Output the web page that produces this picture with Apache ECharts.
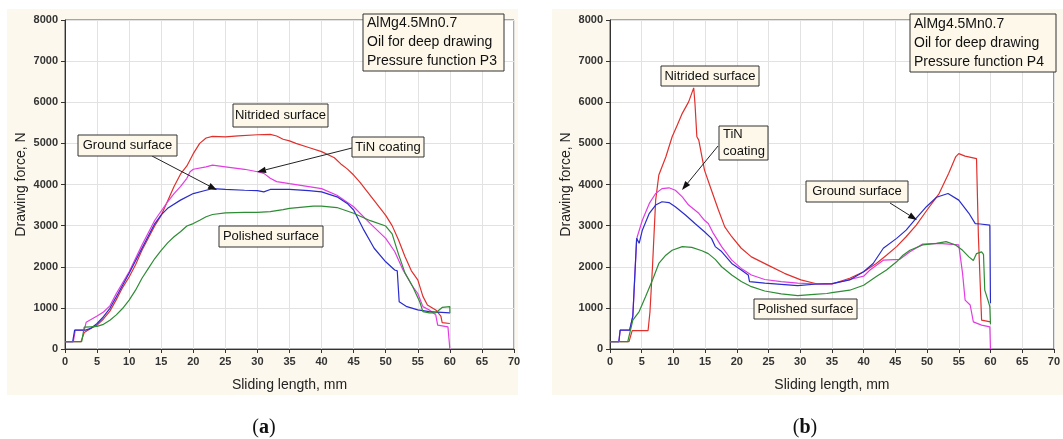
<!DOCTYPE html>
<html>
<head>
<meta charset="utf-8">
<script src="https://cdn.jsdelivr.net/npm/echarts@6/dist/echarts.min.js"></script>
<style>
  html, body { margin: 0; padding: 0; background: #fff; }
  #main { width: 1063px; height: 439px; }
</style>
</head>
<body>
<div id="main"></div>
<script>
// sliding length (mm) / drawing force (N)
// panel (a) - pressure function P3
var aNitrided = [[0,180],[2.5,180],[3,400],[4,500],[5,580],[6,730],[7,920],[8,1200],[9,1500],[10,1750],[11,2050],[12,2400],[13,2700],[14,3000],[15,3250],[16,3600],[17,3950],[18,4250],[19,4450],[20,4750],[21,5000],[22,5130],[23,5170],[25,5160],[27,5180],[30,5210],[32,5220],[33,5180],[34,5100],[35,5060],[36,5000],[38,4900],[40,4800],[42,4650],[43,4500],[44,4380],[45,4230],[46,4050],[47,3850],[48,3650],[49,3450],[50,3250],[51,3000],[52,2650],[53,2250],[54,1900],[55,1680],[55.8,1280],[56.5,1070],[57.8,950],[58.6,800],[58.8,640],[60,620]];
var aTiN = [[0,180],[1.3,180],[1.6,460],[3,460],[3.3,650],[5,800],[6,900],[7,1050],[8,1350],[10,1880],[12,2530],[14,3130],[16,3580],[17,3780],[18,3950],[19,4150],[19.5,4310],[20,4370],[22,4430],[23,4470],[25,4430],[28,4370],[30,4310],[31,4270],[32,4150],[33,4070],[35,4020],[38,3950],[40,3900],[42.4,3740],[45,3460],[47.6,3050],[50,2690],[51.4,2370],[52.7,1920],[54.2,1520],[55,1350],[55.8,1030],[56.8,950],[57.8,830],[58.1,580],[59.7,540],[60,540],[60,0]];
var aGround = [[0,180],[1.2,180],[1.5,460],[3.2,460],[4,500],[5,620],[6,785],[7,990],[8,1270],[10,1840],[12,2450],[14,3050],[15,3260],[16,3420],[18,3620],[20,3780],[22,3860],[23,3900],[25,3880],[28,3860],[30,3850],[31,3820],[32,3880],[35,3880],[38,3850],[40,3820],[42.4,3700],[44,3540],[45,3380],[46.6,2890],[48.2,2450],[50,2120],[51.4,1920],[51.8,1900],[52.1,1150],[53.3,1030],[55,950],[56.8,910],[60,880]];
var aPolished = [[0,180],[2.6,180],[3,530],[4,540],[5,550],[6,600],[7,700],[8,830],[9,990],[10,1190],[11,1430],[12,1720],[13,1960],[14,2200],[15,2400],[16,2580],[17,2730],[18,2850],[19,2990],[20,3050],[21,3130],[22,3215],[23,3270],[25,3310],[28,3320],[30,3320],[32,3340],[34,3390],[35,3420],[38.7,3475],[40,3475],[42.4,3440],[45,3300],[47.6,3120],[50,2990],[51,2800],[52,2300],[53,1850],[54.2,1520],[55.3,1150],[55.8,910],[56.8,880],[57.8,880],[58.8,1010],[60,1030],[60,870]];

// panel (b) - pressure function P4
var bNitrided = [[0,180],[3,180],[3.5,445],[6,445],[6.3,900],[6.7,2000],[7.2,3620],[7.7,4230],[8.8,4670],[9.8,5160],[10.6,5440],[11.4,5730],[12.4,6010],[13.2,6350],[13.4,5970],[13.7,5160],[14,5080],[14.9,4350],[16,3860],[17.1,3380],[18.1,2970],[19.2,2730],[20.7,2450],[22.3,2240],[24.9,2040],[27.5,1840],[30.1,1680],[32.7,1580],[35,1580],[37.8,1720],[40,1880],[42,2080],[43.6,2280],[45.2,2490],[46.7,2730],[48.3,3010],[50,3380],[51.9,3780],[53.4,4270],[54.5,4670],[55,4750],[56,4690],[57.8,4630],[58.1,2730],[58.6,700],[60,660]];
var bTiN = [[0,180],[1.4,180],[1.6,460],[3.1,460],[3.6,800],[4.2,2650],[4.3,2730],[5.1,3130],[6.2,3540],[7.2,3780],[8.2,3900],[9.3,3920],[10.3,3860],[11.4,3700],[12.4,3500],[14,3300],[14.9,3130],[15.5,3050],[16.3,2810],[17.6,2490],[19.2,2160],[20.7,1960],[22.3,1800],[24.4,1690],[27,1640],[29.6,1600],[32.7,1580],[35,1580],[37.8,1690],[40,1770],[41,1920],[43.1,2160],[45.7,2180],[47.3,2365],[49.3,2550],[51.9,2570],[53.4,2550],[55,2530],[55.3,2500],[55.6,1840],[56,1190],[56.8,1070],[57.3,660],[58.6,580],[59.9,540],[60,0]];
var bGround = [[0,180],[1.4,180],[1.6,460],[3.1,460],[3.6,800],[4.2,2690],[4.6,2570],[5.1,2890],[6.2,3300],[7.2,3500],[8.2,3580],[9.3,3560],[10.3,3460],[11.9,3260],[13.4,3050],[14.9,2850],[16,2690],[16.6,2490],[17.6,2370],[19.2,2080],[20.7,1920],[21.8,1800],[22,1640],[24.4,1600],[27,1570],[29.6,1540],[32.7,1580],[35,1590],[37.8,1680],[40,1880],[41.5,2080],[43.1,2450],[45.2,2690],[46.7,2890],[48.3,3180],[49.9,3460],[51.5,3690],[53.3,3780],[53.6,3740],[55,3620],[56.6,3300],[57.6,3050],[58.4,3040],[59.9,3010],[60,1110]];
var bPolished = [[0,180],[2.8,180],[3.6,700],[4.6,910],[5.6,1270],[6.7,1680],[7.7,2080],[8.8,2280],[9.8,2400],[11.4,2490],[12.9,2470],[14.5,2390],[15.5,2320],[16.6,2180],[17.6,2000],[19.2,1800],[20.7,1640],[22.3,1515],[24.4,1410],[27,1340],[29.6,1300],[32.2,1330],[34.2,1350],[35,1370],[37.8,1430],[40,1550],[42,1760],[43.6,1920],[45.2,2120],[46.2,2280],[47.3,2400],[49.3,2530],[51.5,2570],[53,2610],[54.5,2530],[55.6,2400],[56.6,2240],[57.3,2150],[57.8,2320],[58.6,2360],[58.9,2300],[59.1,1430],[59.6,1190],[59.9,1030],[60,600]];

var infoA = ['AlMg4.5Mn0.7', 'Oil for deep drawing', 'Pressure function P3'];
var infoB = ['AlMg4.5Mn0.7', 'Oil for deep drawing', 'Pressure function P4'];

var colors = { nit: '#e0302c', tin: '#e23ce2', gro: '#2a2ccc', pol: '#2e8c34' };
var FONT = 'Arial, "Liberation Sans", sans-serif';

var myChart = echarts.init(document.getElementById('main'));

function xAxisCfg(gi) {
	return {
		type: 'value', gridIndex: gi, min: 0, max: 70, interval: 5,
		name: 'Sliding length, mm', nameLocation: 'middle', nameGap: 29,
		nameTextStyle: { color: '#222', fontSize: 14, fontFamily: FONT },
		axisLine: { lineStyle: { color: '#333' } },
		axisTick: { show: true, length: 4, lineStyle: { color: '#333' } },
		axisLabel: { color: '#333', fontSize: 11, fontWeight: 'bold', fontFamily: FONT, margin: 7 },
		splitLine: { show: true, lineStyle: { color: '#e2e2e2' } }
	};
}
function yAxisCfg(gi) {
	return {
		type: 'value', gridIndex: gi, min: 0, max: 8000, interval: 1000,
		name: 'Drawing force, N', nameLocation: 'middle', nameGap: 37,
		nameTextStyle: { color: '#222', fontSize: 14, fontFamily: FONT },
		axisLine: { show: true, lineStyle: { color: '#333' } },
		axisTick: { show: true, length: 4, lineStyle: { color: '#333' } },
		axisLabel: {
			color: '#333', fontSize: 11, fontWeight: 'bold', fontFamily: FONT, margin: 7,
			formatter: function (v) { return String(v); }
		},
		splitLine: { show: true, lineStyle: { color: '#e2e2e2' } }
	};
}
function line(name, data, color, gi) {
	return {
		name: name, type: 'line', xAxisIndex: gi, yAxisIndex: gi,
		data: data, showSymbol: false, symbol: 'none', silent: true,
		lineStyle: { color: color, width: 1.2 }
	};
}

// label box: rect + text
function box(x, y, w, h, lines, align) {
	var els = [{
		type: 'rect', z: 20,
		shape: { x: x, y: y, width: w, height: h },
		style: { fill: '#fdf8ea', stroke: '#333', lineWidth: 1 }
	}];
	var lh = h / lines.length;
	var fs = lines.length === 3 ? 14 : 13;
	lines.forEach(function (t, i) {
		els.push({
			type: 'text', z: 21,
			x: align === 'left' ? x + 4 : x + w / 2,
			y: y + lh * (i + 0.5),
			style: {
				text: t, font: fs + 'px ' + FONT, fill: '#111',
				align: align === 'left' ? 'left' : 'center', verticalAlign: 'middle'
			}
		});
	});
	return els;
}
function arrow(x1, y1, x2, y2) {
	var a = Math.atan2(y2 - y1, x2 - x1), L = 9, W = 3.2;
	var bx = x2 - L * Math.cos(a), by = y2 - L * Math.sin(a);
	return [{
		type: 'line', z: 19,
		shape: { x1: x1, y1: y1, x2: bx, y2: by },
		style: { stroke: '#222', lineWidth: 1 }
	}, {
		type: 'polygon', z: 19,
		shape: { points: [[x2, y2], [bx + W * Math.sin(a), by - W * Math.cos(a)], [bx - W * Math.sin(a), by + W * Math.cos(a)]] },
		style: { fill: '#111' }
	}];
}
function caption(cx, letter) {
	return {
		type: 'text', z: 5, x: cx, y: 428,
		style: {
			text: '{p|(}{b|' + letter + '}{p|)}', align: 'center', verticalAlign: 'middle',
			rich: {
				p: { font: '20px "Liberation Serif", "DejaVu Serif", serif', fill: '#111' },
				b: { font: 'bold 20px "Liberation Serif", "DejaVu Serif", serif', fill: '#111' }
			}
		}
	};
}

var graphics = [
	{ type: 'rect', z: -10, shape: { x: 7, y: 9, width: 511, height: 386 }, style: { fill: '#fcf8ed' } },
	{ type: 'rect', z: -10, shape: { x: 552, y: 9, width: 511, height: 386 }, style: { fill: '#fcf8ed' } },
	caption(264, 'a'),
	caption(805, 'b')
];
graphics = graphics
	.concat(box(363, 14, 141, 57, infoA, 'left'))
	.concat(box(233, 104, 95, 23, ['Nitrided surface']))
	.concat(box(78, 135, 99, 21, ['Ground surface']))
	.concat(box(352, 137, 72, 20, ['TiN coating']))
	.concat(box(219, 226, 104, 21, ['Polished surface']))
	.concat(arrow(152, 156, 217, 190))
	.concat(arrow(352, 148, 257, 172))
	.concat(box(910, 14, 146, 58, infoB, 'left'))
	.concat(box(661, 66, 98, 20, ['Nitrided surface']))
	.concat(box(719, 126, 49, 34, ['TiN', 'coating'], 'left'))
	.concat(box(806, 181, 102, 21, ['Ground surface']))
	.concat(box(754, 299, 103, 20, ['Polished surface']))
	.concat(arrow(718, 146, 682, 190))
	.concat(arrow(890, 203, 917, 220));

var option = {
	animation: false,
	backgroundColor: '#fff',
	grid: [
		{ left: 65, top: 20, width: 449, height: 329, show: true, backgroundColor: '#fff', borderColor: '#555', borderWidth: 1 },
		{ left: 610, top: 20, width: 449, height: 329, show: true, backgroundColor: '#fff', borderColor: '#555', borderWidth: 1 }
	],
	xAxis: [xAxisCfg(0), xAxisCfg(1)],
	yAxis: [yAxisCfg(0), yAxisCfg(1)],
	series: [
		line('Nitrided surface', aNitrided, colors.nit, 0),
		line('TiN coating', aTiN, colors.tin, 0),
		line('Ground surface', aGround, colors.gro, 0),
		line('Polished surface', aPolished, colors.pol, 0),
		line('Nitrided surface', bNitrided, colors.nit, 1),
		line('TiN coating', bTiN, colors.tin, 1),
		line('Ground surface', bGround, colors.gro, 1),
		line('Polished surface', bPolished, colors.pol, 1)
	],
	graphic: graphics
};

myChart.setOption(option);
</script>
</body>
</html>
